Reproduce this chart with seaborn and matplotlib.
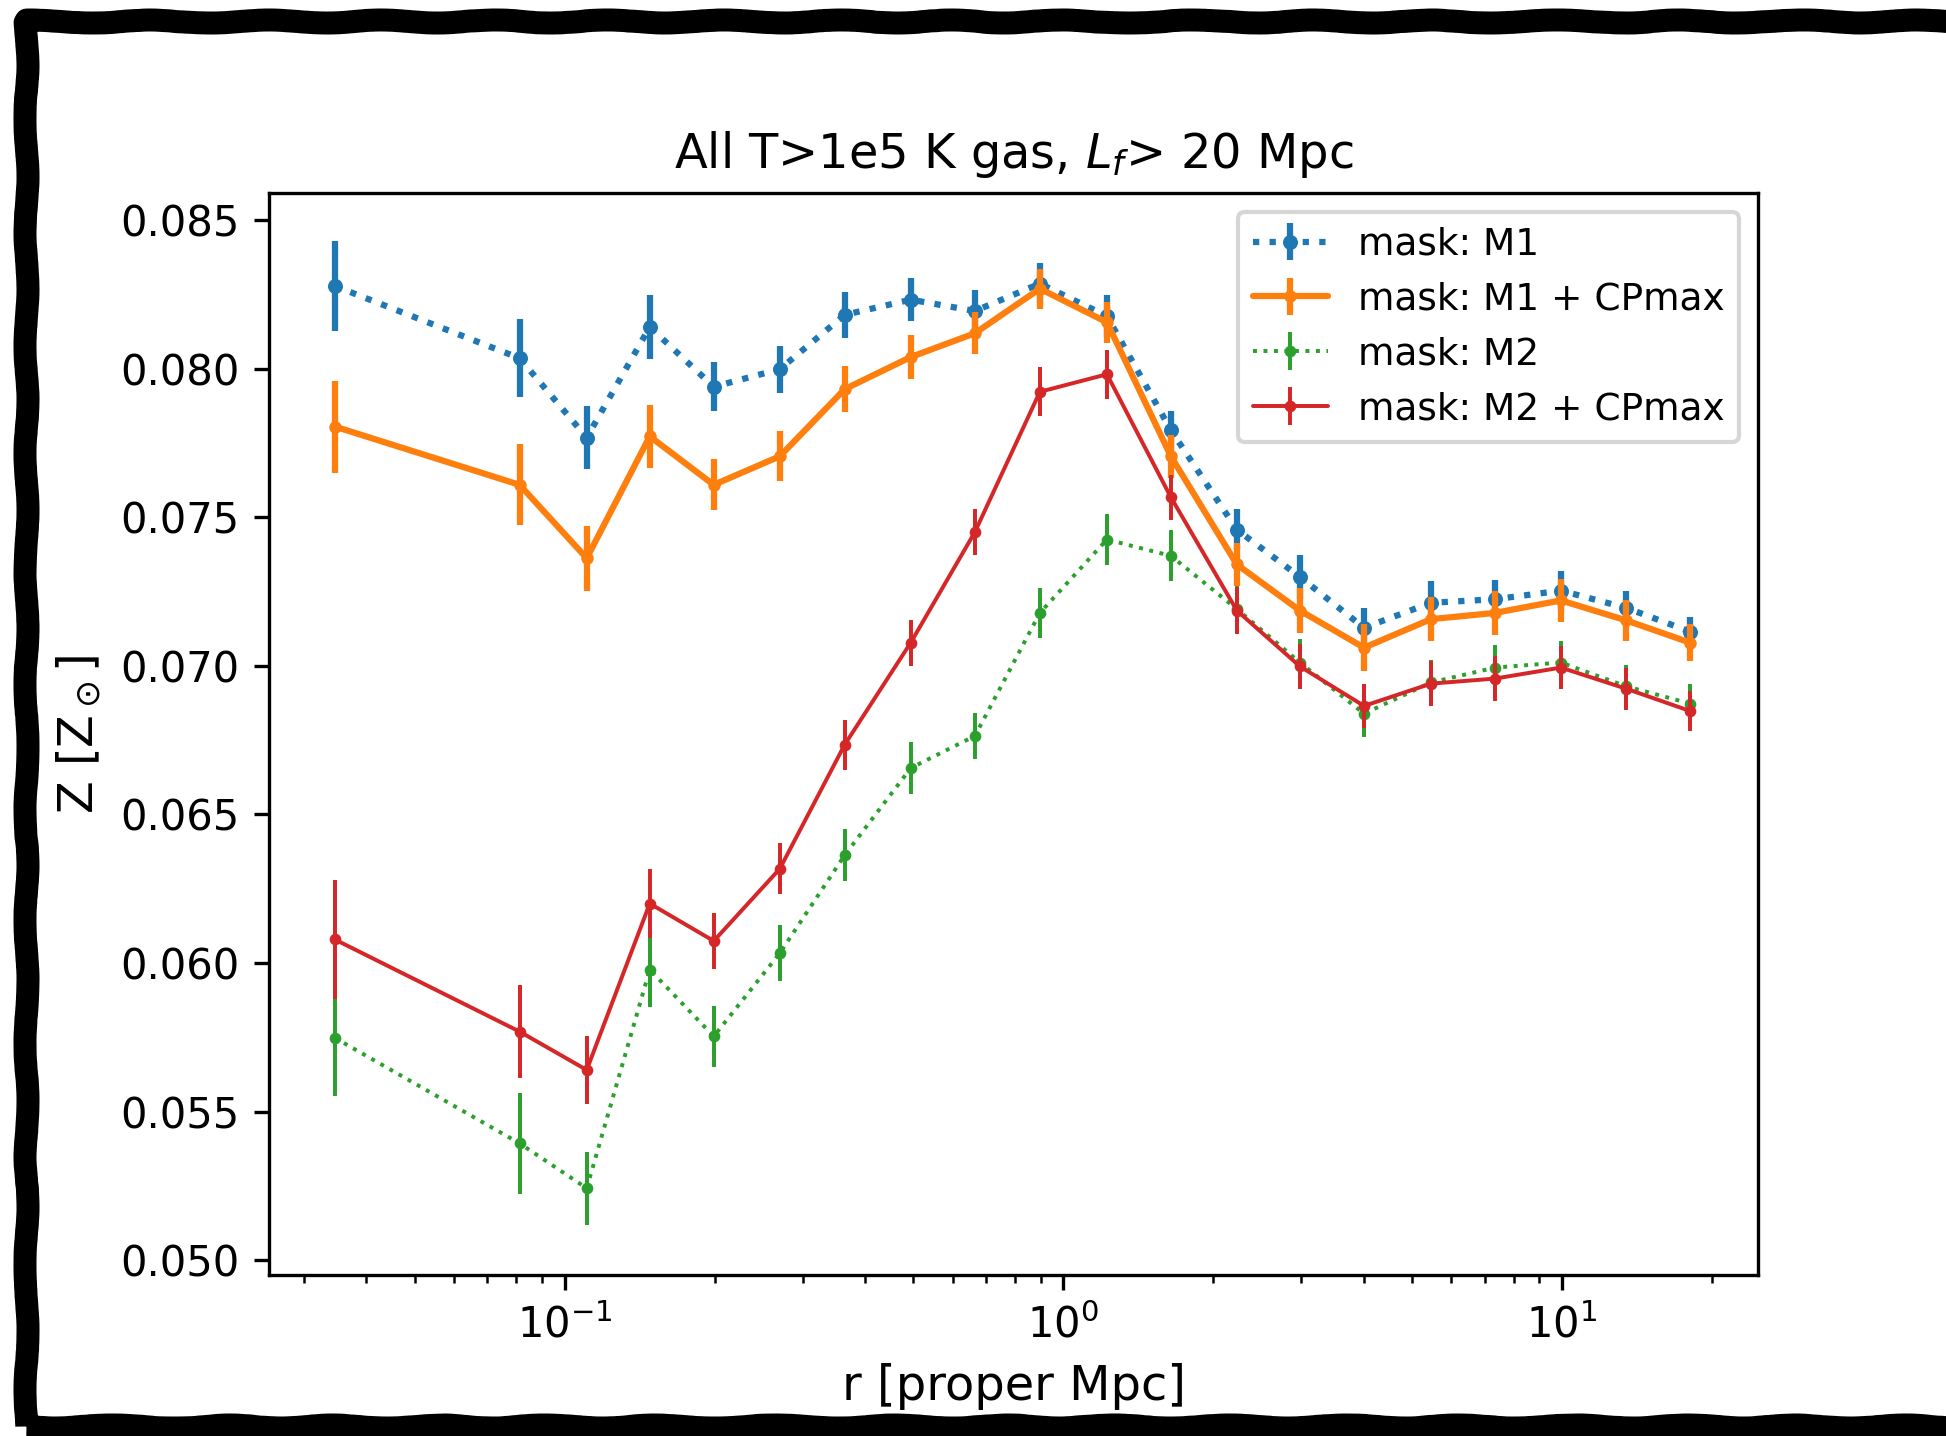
import numpy as np
import pandas as pd
import matplotlib
matplotlib.use("Agg")
import matplotlib.pyplot as plt
import seaborn as sns
from matplotlib.patches import Rectangle

# ---------------- data ----------------
r_mpc = [0.0346, 0.0812, 0.1107, 0.1481, 0.1990, 0.2700, 0.3644, 0.4943,
         0.6646, 0.8972, 1.2228, 1.643, 2.228, 2.981, 4.008, 5.46, 7.34,
         9.95, 13.44, 18.06]

z_m1 = [0.08278, 0.08035, 0.07768, 0.08140, 0.07939, 0.07998, 0.08181,
        0.08232, 0.08194, 0.08286, 0.08177, 0.07793, 0.07458, 0.07299,
        0.07128, 0.07212, 0.07224, 0.07253, 0.07195, 0.07115]
e_m1 = [0.00153, 0.00132, 0.00105, 0.00107, 0.00082, 0.00079, 0.00077,
        0.00073, 0.00070, 0.00070, 0.00070, 0.00065, 0.00070, 0.00075,
        0.00067, 0.00073, 0.00065, 0.00065, 0.00057, 0.00050]

z_m1cp = [0.07805, 0.07609, 0.07362, 0.07772, 0.07609, 0.07705, 0.07931,
          0.08039, 0.08119, 0.08269, 0.08156, 0.07705, 0.07341, 0.07186,
          0.07061, 0.07157, 0.07178, 0.07220, 0.07153, 0.07078]
e_m1cp = [0.00155, 0.00136, 0.00109, 0.00105, 0.00086, 0.00084, 0.00077,
          0.00073, 0.00071, 0.00067, 0.00069, 0.00073, 0.00073, 0.00077,
          0.00079, 0.00075, 0.00075, 0.00071, 0.00069, 0.00063]

z_m2 = [0.05748, 0.05393, 0.05242, 0.05978, 0.05753, 0.06033, 0.06363,
        0.06656, 0.06764, 0.07178, 0.07425, 0.07370, 0.07191, 0.07011,
        0.06839, 0.06944, 0.06994, 0.07011, 0.06931, 0.06873]
e_m2 = [0.00196, 0.00171, 0.00123, 0.00125, 0.00102, 0.00094, 0.00088,
        0.00086, 0.00077, 0.00084, 0.00086, 0.00086, 0.00079, 0.00079,
        0.00077, 0.00075, 0.00077, 0.00071, 0.00071, 0.00067]

z_m2cp = [0.06079, 0.05769, 0.05640, 0.06200, 0.06074, 0.06317, 0.06735,
          0.07078, 0.07450, 0.07922, 0.07981, 0.07567, 0.07186, 0.06998,
          0.06865, 0.06940, 0.06957, 0.06994, 0.06923, 0.06848]
e_m2cp = [0.00199, 0.00157, 0.00113, 0.00117, 0.00094, 0.00086, 0.00084,
          0.00077, 0.00077, 0.00082, 0.00082, 0.00075, 0.00079, 0.00077,
          0.00075, 0.00075, 0.00075, 0.00073, 0.00071, 0.00067]

labels = ["mask: M1", "mask: M1 + CPmax", "mask: M2", "mask: M2 + CPmax"]
y_ticks = [0.050, 0.055, 0.060, 0.065, 0.070, 0.075, 0.080, 0.085]

# ---------------- style ----------------
sns.set_style("ticks", rc={
    "axes.edgecolor": "black", "axes.linewidth": 0.8,
    "xtick.color": "black", "ytick.color": "black",
    "text.color": "black", "axes.labelcolor": "black",
    "xtick.major.size": 3.5, "xtick.minor.size": 2.0,
    "ytick.major.size": 3.5, "xtick.major.width": 0.8,
    "xtick.minor.width": 0.6, "ytick.major.width": 0.8,
})
plt.rcParams["font.family"] = ["DejaVu Sans"]
plt.rcParams["font.size"] = 10
plt.rcParams["mathtext.fontset"] = "dejavusans"

pal = sns.color_palette("tab10")
colors = [pal[0], pal[1], pal[2], pal[3]]
lstyles = [":", "-", ":", "-"]
lwidths = [1.5, 1.5, 0.95, 0.95]
msizes = [3.6, 3.0, 2.8, 2.8]

W, H, DPI = 1946, 1436, 300
fig = plt.figure(figsize=(W / DPI, H / DPI), dpi=DPI)
ax = fig.add_axes([269 / W, 1 - 1275 / H, (1758 - 269) / W, (1275 - 193) / H])
ax.set_xscale("log")

series = [(z_m1, e_m1), (z_m1cp, e_m1cp), (z_m2, e_m2), (z_m2cp, e_m2cp)]
handles = []
for (zv, ev), lab, c, ls, lw, ms in zip(series, labels, colors, lstyles, lwidths, msizes):
    df = pd.DataFrame({"r": r_mpc, "Z": zv, "err": ev})
    n_before = len(ax.lines)
    sns.lineplot(data=df, x="r", y="Z", ax=ax, color=c, linestyle=ls,
                 linewidth=lw, marker="o", markersize=ms,
                 markeredgecolor=c, markerfacecolor=c, markeredgewidth=0,
                 errorbar=None, legend=False)
    line = ax.lines[n_before]
    eb = ax.errorbar(df["r"], df["Z"], yerr=df["err"], fmt="none",
                     ecolor=c, elinewidth=lw, capsize=0)
    handles.append((line, eb))

ax.set_xlim(10 ** -1.593, 10 ** 1.393)
ax.set_ylim(0.04950, 0.08591)
ax.set_yticks(y_ticks)
ax.set_yticklabels([f"{t:.3f}" for t in y_ticks])
ax.tick_params(axis="both", labelsize=10)

ax.set_title(r"All T>1e5 K gas, $L_f$> 20 Mpc", fontsize=11.5)
ax.set_xlabel("r [proper Mpc]", fontsize=11.5)
ax.set_ylabel(r"Z [Z$_\odot$]", fontsize=11.5)

leg = ax.legend(handles, labels, loc="upper right", fontsize=9,
                frameon=True, fancybox=True, framealpha=0.8,
                edgecolor="0.8")

# ---------------- hand-drawn style frame ----------------
lw_px = 23
frame = Rectangle((25.5 / W, 1 - 1426 / H),
                  (1951 - 25.5) / W, (1426 - 21.5) / H,
                  transform=fig.transFigure, fill=False,
                  edgecolor="black", linewidth=lw_px * 72 / DPI,
                  joinstyle="round", clip_on=False)
frame.set_sketch_params(scale=1.5, length=140, randomness=3)
fig.add_artist(frame)

fig.savefig("out.png", dpi=DPI, facecolor="white")
